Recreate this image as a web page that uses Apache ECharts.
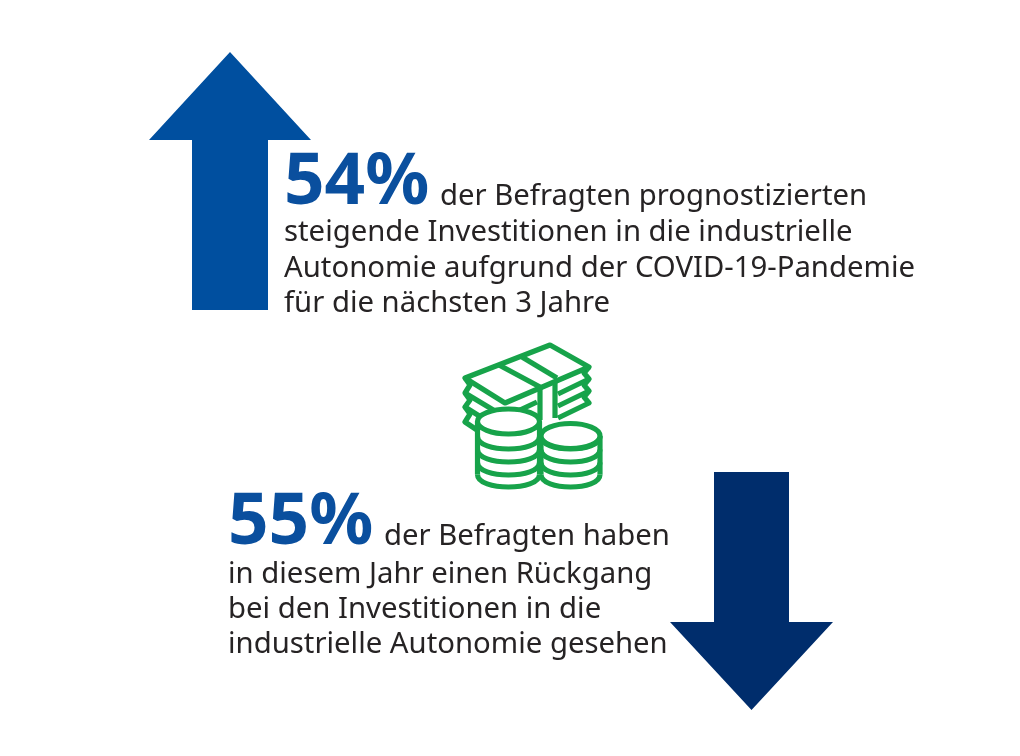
<!DOCTYPE html>
<html><head><meta charset="utf-8">
<style>html,body{margin:0;padding:0;background:#fff}#c{width:1020px;height:756px}</style>
<script src="https://cdn.jsdelivr.net/npm/echarts@6/dist/echarts.min.js"></script>
</head><body><div id="c"></div>
<script>
const percentages = ["54%", "55%"];
const upLines = ["der Befragten prognostizierten", "steigende Investitionen in die industrielle", "Autonomie aufgrund der COVID-19-Pandemie", "für die nächsten 3 Jahre"];
const downLines = ["der Befragten haben", "in diesem Jahr einen Rückgang", "bei den Investitionen in die", "industrielle Autonomie gesehen"];

const BLUE = "#004f9f", NAVY = "#002d6c", GREEN = "#17a34a", INK = "#262324", FONT = '"Noto Sans"', LW = 5.2;
const g = [];
const poly = (pts, fill) => g.push({type:"polygon", shape:{points:pts}, style:{fill}});
const strokeLine = (pts, closed) => g.push({type: closed ? "polygon" : "polyline", shape:{points:pts},
  style:{fill: closed ? "#fff" : null, stroke:GREEN, lineWidth:LW, lineJoin:"round"}});
const txt = (text, x, y, size, color, weight) => g.push({type:"text", x, y,
  style:{text, fill:color, font:`${weight||400} ${size}px ${FONT}`, textAlign:"left", verticalAlign:"middle"}});

poly([[230,52],[311,140],[268,140],[268,310],[192,310],[192,140],[149,140]], BLUE);
poly([[714,472],[789,472],[789,622],[833,622],[751.5,710],[670,622],[714,622]], NAVY);

// banknotes
strokeLine([[589,367],[584,373],[589,379],[558,394]]);
strokeLine([[589,379],[584,385],[589,391],[558,406]]);
strokeLine([[589,391],[584,397],[589,403],[558,418]]);
strokeLine([[465,393],[505,417],[537,402]]);
strokeLine([[465,378],[470,385],[465,393],[470,400],[465,407],[500,429]]);
strokeLine([[465,407],[470,414],[465,422],[480,432]]);
strokeLine([[465,378],[550,345],[589,367],[505,403]], true);
strokeLine([[499,365],[540,387],[540,420]]);
strokeLine([[522,357],[557,378]]);
strokeLine([[555,380],[555,418]]);

// coins
function coin(cx, topY, rx, ry, arcs) {
  const bottom = arcs[arcs.length-1];
  g.push({type:"ellipse", shape:{cx, cy:bottom-ry, rx, ry}, style:{fill:"#fff"}});
  g.push({type:"rect", shape:{x:cx-rx, y:topY, width:2*rx, height:bottom-ry-topY}, style:{fill:"#fff"}});
  g.push({type:"line", shape:{x1:cx-rx,y1:topY,x2:cx-rx,y2:bottom-ry}, style:{stroke:GREEN,lineWidth:LW}});
  g.push({type:"line", shape:{x1:cx+rx,y1:topY,x2:cx+rx,y2:bottom-ry}, style:{stroke:GREEN,lineWidth:LW}});
  arcs.forEach(b => {
    const y = b-ry;
    g.push({type:"bezierCurve", shape:{x1:cx-rx,y1:y,x2:cx+rx,y2:y,cpx1:cx-rx,cpy1:y+ry*4/3,cpx2:cx+rx,cpy2:y+ry*4/3},
      style:{stroke:GREEN,lineWidth:LW,fill:null}});
  });
  g.push({type:"ellipse", shape:{cx, cy:topY, rx, ry}, style:{fill:"#fff", stroke:GREEN, lineWidth:LW}});
}
coin(570.5, 436, 29.5, 12.5, [449,462,475,487]);
coin(508.5, 421.5, 31, 12.5, [449,462,475,487]);

const S = 29.3, B = 71;
txt(percentages[0], 284, 184, B, "#0a4f9e", 700);
txt(upLines[0], 440, 197, S, INK);
txt(upLines[1], 284, 233, S, INK);
txt(upLines[2], 284, 269, S, INK);
txt(upLines[3], 284, 304, S, INK);
txt(percentages[1], 228, 524, B, "#0a4f9e", 700);
txt(downLines[0], 384, 537, S, INK);
txt(downLines[1], 228, 575, S, INK);
txt(downLines[2], 228, 610, S, INK);
txt(downLines[3], 228, 645, S, INK);

const chart = echarts.init(document.getElementById("c"), null, {renderer:"canvas"});
chart.setOption({animation:false, backgroundColor:"#fff", graphic:{elements:g}});
</script></body></html>
